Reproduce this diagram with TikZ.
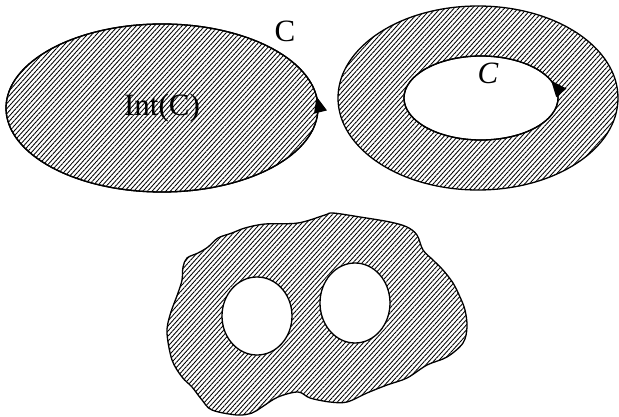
\documentclass[tikz,border=0pt]{standalone}
\usepackage{fontspec}
\setmainfont{Liberation Serif}
\usetikzlibrary{patterns.meta, decorations.markings, arrows.meta}

\begin{document}
\begin{tikzpicture}[
      x=1pt, y=1pt,
      hatched/.style={draw, line width=1.3pt, even odd rule,
        pattern={Lines[angle=48, distance=3.4pt, line width=0.85pt]}},
      lbl/.style={font=\fontsize{31}{31}\selectfont, inner sep=0pt},
      arrowat/.style={postaction={decorate}, decoration={markings,
        mark=at position #1 with {\arrow{Triangle[length=16pt, width=13pt]}}}}
  ]
      \useasboundingbox (0,0) rectangle (619,416);

      % Interior of C
      \draw[hatched] (162,308) ellipse (156 and 84);
      \draw[line width=1.3pt, arrowat=0.015] (162,308) ellipse (156 and 84);
      \node[lbl] (intc) at (162,308) {Int(C)};
      \node[lbl] (cl) at (285,385) {C};

      % Exterior region
      \draw[hatched] (478,318) ellipse (140 and 92) (481,318) ellipse (77 and 42);
      \draw[line width=1.3pt, arrowat=0.05] (481,318) ellipse (77 and 42);
      \node[lbl] (cr) at (488,343) {\itshape C};

      % Region with two holes
      \draw[hatched] plot[smooth cycle, tension=0.55] coordinates {
          (333,203) (360,199) (390,194) (407,189) (417,181) (423,166) (433,156)
          (443,146) (453,133) (460,119) (465,106) (467,89) (463,73) (447,59)
          (427,51) (407,38) (387,31) (367,23) (347,14) (330,14) (310,18)
          (298,24) (278,19) (262,9) (252,3) (237,1) (212,6) (202,16)
          (192,29) (182,39) (172,56) (167,83) (170,101) (178,123) (182,136)
          (183,149) (187,158) (198,163) (208,169) (218,178) (232,183)
          (245,188) (265,192) (298,193) (325,201)}
        (257,100) ellipse (35 and 39)
        (355,113) ellipse (35 and 40);
  \end{tikzpicture}
\end{document}
